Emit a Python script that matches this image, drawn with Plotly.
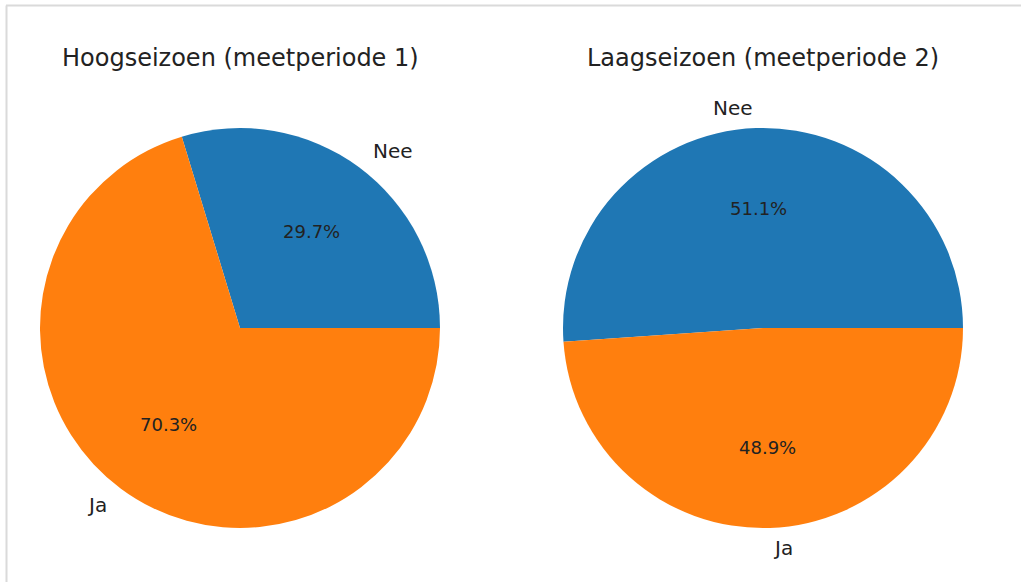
import math
import plotly.graph_objects as go

# data
labels = ["Nee", "Ja"]
hoogseizoen = [29.7, 70.3]
laagseizoen = [51.1, 48.9]
titels = ["Hoogseizoen (meetperiode 1)", "Laagseizoen (meetperiode 2)"]
kleuren = ["#1f77b4", "#ff7f0e"]

W, H = 1021, 582
R = 200
centra = [(240, 328), (763, 328)]
FONT = "DejaVu Sans"
TXT = "#222222"


def px(x, y):
    return x / W, 1 - y / H


fig = go.Figure()
annotaties = []

for waarden, titel, (cx, cy) in zip([hoogseizoen, laagseizoen], titels, centra):
    x0, y1 = px(cx - R, cy - R)
    x1, y0 = px(cx + R, cy + R)
    totaal = sum(waarden)
    # plotly: bij counterclockwise eindigt de eerste slice op 'rotation',
    # dus terugrekenen zodat de eerste slice op 3 uur begint (zoals matplotlib)
    rot = 90 - 360 * waarden[0] / totaal
    fig.add_trace(go.Pie(
        labels=labels,
        values=waarden,
        sort=False,
        direction="counterclockwise",
        rotation=rot,
        marker=dict(colors=kleuren, line=dict(width=0)),
        textinfo="none",
        domain=dict(x=[x0, x1], y=[y0, y1]),
        showlegend=False,
    ))

    # labels zoals matplotlib: naam op 1.1R, percentage op 0.6R
    cum = 0
    for lab, v in zip(labels, waarden):
        hoek = math.radians(360 * (cum + v / 2) / totaal)
        cum += v
        c, s = math.cos(hoek), math.sin(hoek)
        lx, ly = px(cx + 1.1 * R * c, cy - 1.1 * R * s)
        annotaties.append(dict(
            x=lx, y=ly, xref="paper", yref="paper", text=lab, showarrow=False,
            xanchor="left" if c > 0 else "right", yanchor="middle",
            font=dict(family=FONT, size=20, color=TXT)))
        tx, ty = px(cx + 0.6 * R * c, cy - 0.6 * R * s)
        annotaties.append(dict(
            x=tx, y=ty, xref="paper", yref="paper", text=f"{v / totaal * 100:.1f}%",
            showarrow=False, xanchor="center", yanchor="middle",
            font=dict(family=FONT, size=18, color=TXT)))

    tx, ty = px(cx, 58)
    annotaties.append(dict(
        x=tx, y=ty, xref="paper", yref="paper", text=titel, showarrow=False,
        xanchor="center", yanchor="middle",
        font=dict(family=FONT, size=24, color=TXT)))

fig.update_layout(
    width=W, height=H,
    margin=dict(l=0, r=0, t=0, b=0),
    paper_bgcolor="white",
    annotations=annotaties,
    shapes=[
        dict(type="line", xref="paper", yref="paper", x0=6 / W, x1=1, y0=1 - 5.5 / H, y1=1 - 5.5 / H,
             line=dict(color="#dadada", width=2)),
        dict(type="line", xref="paper", yref="paper", x0=6.5 / W, x1=6.5 / W, y0=0, y1=1 - 5.5 / H,
             line=dict(color="#dadada", width=2)),
    ],
)

# standaard body-marge van de browser weghalen, geen modebar
fig.write_html("out.html", config={"displayModeBar": False},
               post_script="document.body.style.margin='0';")
